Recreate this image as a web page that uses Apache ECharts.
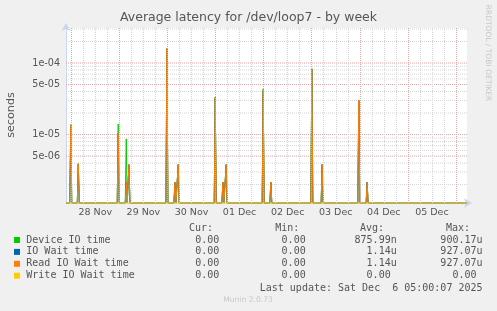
<!DOCTYPE html>
<html>
<head>
<meta charset="utf-8">
<script src="https://cdn.jsdelivr.net/npm/echarts@6/dist/echarts.min.js"></script>
<style>
    html, body { margin: 0; padding: 0; background: #f0f0f0; }
    #chart { width: 497px; height: 311px; }
</style>
</head>
<body>
<div id="chart"></div>
<script>
    // week window shown by munin
    var startTime = '2025-11-27 21:22'
    var endTime = '2025-12-06 05:30'
    var yMin = 1.105e-6
    var yMax = 3.09e-4

    // samples that are not zero (everything else is 0)
    var spikeTimes = ['2025-11-27 23:45', '2025-11-28 03:30', '2025-11-28 23:26', '2025-11-29 03:26', '2025-11-29 04:47',
        '2025-11-29 23:44', '2025-11-30 03:44', '2025-11-30 05:22', '2025-11-30 23:50', '2025-12-01 03:40',
        '2025-12-01 05:18', '2025-12-01 23:46', '2025-12-02 03:36', '2025-12-03 00:04', '2025-12-03 05:12',
        '2025-12-03 23:30', '2025-12-04 03:39']
    var deviceVals = [1.37e-5, 3.9e-6, 1.41e-5, 8.7e-6, 3.8e-6, 1.59e-4, 2.15e-6, 3.8e-6, 3.3e-5, 2.15e-6,
        3.8e-6, 4.37e-5, 2.15e-6, 8.3e-5, 3.8e-6, 3.0e-5, 2.15e-6]
    var waitVals = [1.37e-5, 3.9e-6, 1.05e-5, 2.15e-6, 3.8e-6, 1.59e-4, 2.15e-6, 3.8e-6, 3.3e-5, 2.15e-6,
        3.8e-6, 4.1e-5, 2.15e-6, 8.3e-5, 3.8e-6, 3.0e-5, 2.15e-6]
    var readVals = [1.37e-5, 3.9e-6, 1.05e-5, 2.15e-6, 3.8e-6, 1.59e-4, 2.15e-6, 3.8e-6, 3.3e-5, 2.15e-6,
        3.8e-6, 4.1e-5, 2.15e-6, 8.3e-5, 3.8e-6, 3.0e-5, 2.15e-6]
    var writeVals = [0, 0, 0, 0, 0, 0, 0, 0, 0, 0, 0, 0, 0, 0, 0, 0, 0]

    // axis ticks
    var yMajor = [5e-6, 1e-5, 5e-5, 1e-4]
    var yMinor = [2e-6, 3e-6, 4e-6, 6e-6, 7e-6, 8e-6, 9e-6, 2e-5, 3e-5, 4e-5, 6e-5, 7e-5, 8e-5, 9e-5, 2e-4, 3e-4]
    var dayLabels = ['2025-11-28 12:00', '2025-11-29 12:00', '2025-11-30 12:00', '2025-12-01 12:00',
        '2025-12-02 12:00', '2025-12-03 12:00', '2025-12-04 12:00', '2025-12-05 12:00']
    var firstMidnight = '2025-11-28 00:00'
    var lastMidnight = '2025-12-06 00:00'

    // legend table
    var legendNames = ['Device IO time', 'IO Wait time', 'Read IO Wait time', 'Write IO Wait time']
    var legendColors = ['#00cc00', '#0066b3', '#ff8000', '#ffcc00']
    var curVals = ['0.00 ', '0.00 ', '0.00 ', '0.00 ']
    var minVals = ['0.00 ', '0.00 ', '0.00 ', '0.00 ']
    var avgVals = ['875.99n', '1.14u', '1.14u', '0.00 ']
    var maxVals = ['900.17u', '927.07u', '927.07u', '0.00 ']

    var HOUR = 3600 * 1000
    var months = ['Jan', 'Feb', 'Mar', 'Apr', 'May', 'Jun', 'Jul', 'Aug', 'Sep', 'Oct', 'Nov', 'Dec']
    var MAJOR = '#e6a4a4'
    var MINOR = '#d4d4d4'

    function t(s) {
        return Date.parse(s.replace(' ', 'T') + ':00Z')
    }

    // zero can not sit on a log axis, munin draws it at the bottom
    function floorVal(v) {
        return v > 0 ? v : yMin
    }

    function spikeData(vals) {
        let d = [[t(startTime), yMin]]
        spikeTimes.forEach(function (s, i) {
            let c = t(s)
            d.push([c - HOUR / 2, yMin], [c, floorVal(vals[i])], [c + HOUR / 2, yMin])
        })
        d.push([t(endTime), yMin])
        return d
    }

    // horizontal grid as broken line segments
    function hGrid(vals) {
        let d = []
        vals.forEach(function (v) {
            d.push([t(startTime), v], [t(endTime), v], [t(endTime), '-'])
        })
        return d
    }

    function expLabel(v) {
        let e = Math.floor(Math.log10(v) + 1e-9)
        let m = Math.round(v / Math.pow(10, e))
        return m + 'e-' + (e < 0 && -e < 10 ? '0' : '') + (-e)
    }

    let vMarks = []
    for (let x = t(firstMidnight); x <= t(lastMidnight); x += 6 * HOUR) {
        let isDay = (x - t(firstMidnight)) % (24 * HOUR) === 0
        vMarks.push({ xAxis: x, lineStyle: { color: isDay ? MAJOR : MINOR } })
    }

    let series = [{
        name: 'minor grid', type: 'line', data: hGrid(yMinor), silent: true, showSymbol: false,
        connectNulls: false, lineStyle: { width: 1, type: [1, 1], color: MINOR },
        markLine: {
            silent: true, animation: false, symbol: ['none', 'none'],
            label: { show: false },
            lineStyle: { type: [1, 1], width: 1 },
            emphasis: { disabled: true },
            data: vMarks
        }
    }, {
        name: 'major grid', type: 'line', data: hGrid(yMajor), silent: true, showSymbol: false,
        connectNulls: false, lineStyle: { width: 1, type: [1, 1], color: MAJOR }
    }]
    let allVals = [deviceVals, waitVals, readVals, writeVals]
    legendNames.forEach(function (n, i) {
        series.push({
            name: n, type: 'line', data: spikeData(allVals[i]),
            showSymbol: false, silent: true, animation: false,
            lineStyle: { width: 1, color: legendColors[i] },
            itemStyle: { color: legendColors[i] }
        })
    })

    // title, side texts and the legend table
    let graphic = [
        { type: 'text', left: 'center', top: 11, style: { text: 'Average latency for /dev/loop7 - by week',
            fill: '#555', fontSize: 12.5, fontFamily: 'DejaVu Sans' } },
        { type: 'text', x: 11, y: 115, rotation: Math.PI / 2, style: { text: 'seconds', fill: '#555',
            fontSize: 11.2, fontFamily: 'DejaVu Sans', align: 'center', verticalAlign: 'middle' } },
        { type: 'text', x: 488, y: 53, rotation: -Math.PI / 2, style: { text: 'RRDTOOL / TOBI OETIKER', fill: '#c8c8c8',
            fontSize: 7.5, fontFamily: 'DejaVu Sans', align: 'center', verticalAlign: 'middle' } },
        { type: 'text', x: 248, y: 300, style: { text: 'Munin 2.0.73', fill: '#c8c8c8',
            fontSize: 7.6, fontFamily: 'DejaVu Sans', align: 'center', verticalAlign: 'middle' } },
        { type: 'text', x: 482.5, y: 288, style: { text: 'Last update: Sat Dec  6 05:00:07 2025', fill: '#555',
            fontSize: 10, fontFamily: 'DejaVu Sans Mono', align: 'right', verticalAlign: 'middle' } }
    ]
    let mono = { fill: '#555', fontSize: 10, fontFamily: 'DejaVu Sans Mono', verticalAlign: 'middle' }
    let heads = [['Cur:', 213], ['Min:', 299.3], ['Avg:', 384], ['Max:', 470]]
    heads.forEach(function (h) {
        graphic.push({ type: 'text', x: h[1], y: 228, style: Object.assign({ text: h[0], align: 'right' }, mono) })
    })
    let cols = [[curVals, 225.3], [minVals, 311.7], [avgVals, 396.7], [maxVals, 482.5]]
    legendNames.forEach(function (n, i) {
        let y = 240 + i * 11.9
        graphic.push({ type: 'rect', shape: { x: 14, y: y - 3, width: 6, height: 6 }, style: { fill: legendColors[i] } })
        graphic.push({ type: 'text', x: 26.3, y: y, style: Object.assign({ text: n, align: 'left' }, mono) })
        cols.forEach(function (c) {
            graphic.push({ type: 'text', x: c[1], y: y, style: Object.assign({ text: c[0][i], align: 'right' }, mono) })
        })
    })

    let options = {
        backgroundColor: '#f0f0f0',
        animation: false,
        grid: { left: 66, top: 28, width: 401, height: 175, show: true, backgroundColor: '#fff', borderWidth: 0 },
        xAxis: {
            type: 'value', min: t(startTime), max: t(endTime), scale: true,
            axisLine: { show: true, lineStyle: { color: '#ccd4f4', width: 1 }, symbol: ['none', 'arrow'],
                symbolSize: [7, 8], symbolOffset: [0, 5] },
            axisTick: { show: false },
            splitLine: { show: false },
            axisLabel: {
                customValues: dayLabels.map(t), margin: 5, color: '#555', fontSize: 9.5, fontFamily: 'DejaVu Sans',
                formatter: function (v) {
                    let d = new Date(v)
                    let day = d.getUTCDate()
                    return (day < 10 ? '0' : '') + day + ' ' + months[d.getUTCMonth()]
                }
            }
        },
        yAxis: {
            type: 'log', logBase: 10, min: yMin, max: yMax,
            axisLine: { show: true, lineStyle: { color: '#ccd4f4', width: 1 }, symbol: ['none', 'arrow'],
                symbolSize: [7, 8], symbolOffset: [0, 5] },
            axisTick: { show: false },
            axisLabel: { show: false },
            splitLine: { show: false }
        },
        graphic: graphic,
        series: series
    }

    let mychart = echarts.init(document.getElementById('chart'))
    mychart.setOption(options)

    // y tick labels placed through the log scale
    let yLabels = yMajor.map(function (v) {
        let p = mychart.convertToPixel({ yAxisIndex: 0 }, v)
        return { type: 'text', x: 60, y: p, style: { text: expLabel(v), fill: '#555', fontSize: 9.6,
            fontFamily: 'DejaVu Sans', align: 'right', verticalAlign: 'middle' } }
    })
    mychart.setOption({ graphic: graphic.concat(yLabels) })
</script>
</body>
</html>
